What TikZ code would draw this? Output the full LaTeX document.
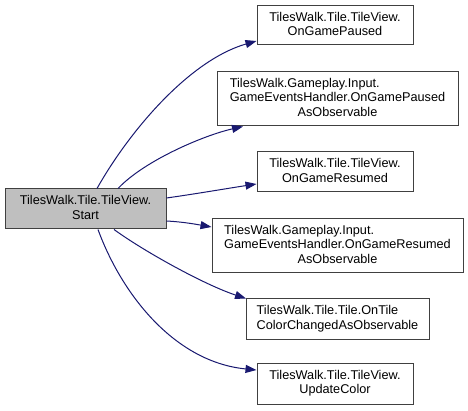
\documentclass[tikz,border=0pt]{standalone}
\usepackage{fontspec}
\setmainfont{Liberation Sans}
\usetikzlibrary{arrows.meta,calc}
\definecolor{edgeblue}{HTML}{191970}
\definecolor{nodeborder}{HTML}{404040}
\definecolor{startfill}{HTML}{BFBFBF}
\newcommand{\lbl}[2]{\begin{tabular}{@{}l@{}}#1\\\multicolumn{1}{@{}c@{}}{#2}\end{tabular}}
\newcommand{\lblthree}[3]{\begin{tabular}{@{}l@{}}#1\\#2\\\multicolumn{1}{@{}c@{}}{#3}\end{tabular}}
\tikzset{
  fnbox/.style={draw=nodeborder, line width=1pt, fill=white, inner sep=0pt,
    font=\fontsize{12.7}{14.5}\selectfont, text=black},
  callarrow/.style={draw=edgeblue, line width=1pt,
    -{Triangle[length=11pt,width=8pt]}, fill=none},
}
\begin{document}
\begin{tikzpicture}[x=1pt,y=-1pt]
\useasboundingbox (0,0) rectangle (468,411);
\node[fnbox, fill=startfill, minimum width=161pt, minimum height=40pt] (start) at (85.5,209)
  {\lbl{TilesWalk.Tile.TileView.}{Start}};
\node[fnbox, minimum width=156pt, minimum height=39pt] (n1) at (335,25.5)
  {\lbl{TilesWalk.Tile.TileView.}{OnGamePaused}};
\node[fnbox, minimum width=241pt, minimum height=54pt] (n2) at (337.5,99)
  {\lblthree{TilesWalk.Gameplay.Input.}{GameEventsHandler.OnGamePaused}{AsObservable}};
\node[fnbox, minimum width=156pt, minimum height=40pt] (n3) at (335,172)
  {\lbl{TilesWalk.Tile.TileView.}{OnGameResumed}};
\node[fnbox, minimum width=251pt, minimum height=54pt] (n4) at (337.5,246)
  {\lblthree{TilesWalk.Gameplay.Input.}{GameEventsHandler.OnGameResumed}{AsObservable}};
\node[fnbox, minimum width=183pt, minimum height=40pt] (n5) at (337.5,319)
  {\lbl{TilesWalk.Tile.Tile.OnTile}{ColorChangedAsObservable}};
\node[fnbox, minimum width=156pt, minimum height=41pt] (n6) at (335,383.5)
  {\lbl{TilesWalk.Tile.TileView.}{UpdateColor}};

\draw[callarrow] ([xshift=11.5pt]start.north) .. controls (130,130) and (190,60) .. ([yshift=-15.5pt]n1.west);
\draw[callarrow] ([xshift=32.5pt]start.north) .. controls (145,160) and (205,135) .. ([xshift=-94.5pt]n2.south);
\draw[callarrow] ([yshift=11pt]start.east) .. controls (195,194) and (230,188) .. ([yshift=-12pt]n3.west);
\draw[callarrow] ([yshift=-12pt]start.east) .. controls (185,222) and (200,225) .. ([yshift=19pt]n4.west);
\draw[callarrow] ([xshift=28.5pt]start.south) .. controls (145,252) and (205,285) .. ([xshift=-91.5pt]n5.north);
\draw[callarrow] ([xshift=12.5pt]start.south) .. controls (122,295) and (175,362) .. ([yshift=13.5pt]n6.west);
\end{tikzpicture}
\end{document}
